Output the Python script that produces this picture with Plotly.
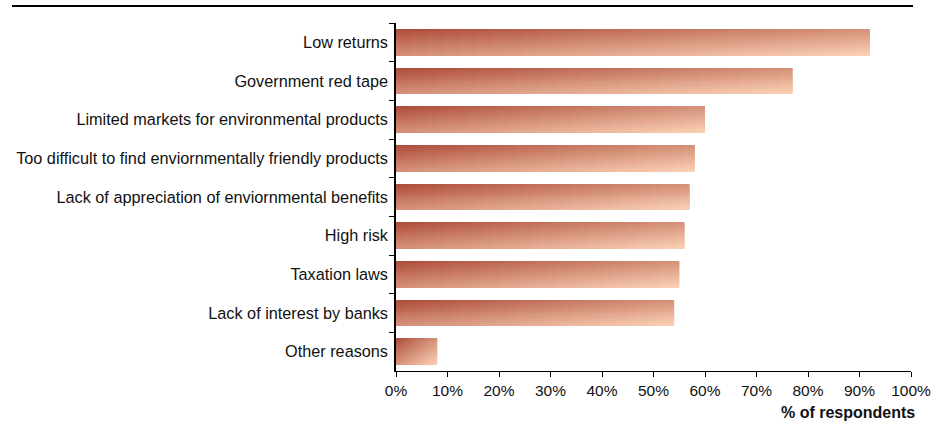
import plotly.graph_objects as go

categories = [
    "Low returns",
    "Government red tape",
    "Limited markets for environmental products",
    "Too difficult to find enviornmentally friendly products",
    "Lack of appreciation of enviornmental benefits",
    "High risk",
    "Taxation laws",
    "Lack of interest by banks",
    "Other reasons",
]
values = [92, 77, 60, 58, 57, 56, 55, 54, 8]
tick_values = list(range(0, 101, 10))
tick_labels = [f"{v}%" for v in tick_values]

# gradient fill: dark top-left -> light bottom-right
c_dark = (172, 74, 56)
c_light = (250, 208, 180)
N_ROWS, N_COLS = 26, 30
BAR_W = 0.66


def ramp(t):
    t = max(0.0, min(1.0, t))
    t = t ** 0.95
    r, g, b = (round(a + (b_ - a) * t) for a, b_ in zip(c_dark, c_light))
    return f"rgb({r},{g},{b})"


ys, xs, bases, offs, widths, cols = [], [], [], [], [], []
for cat, v in zip(categories, values):
    seg = v / N_COLS
    for r in range(N_ROWS):
        for c in range(N_COLS):
            ys.append(cat)
            bases.append(seg * c)
            xs.append(seg * 1.3 if c < N_COLS - 1 else seg)
            offs.append(-BAR_W / 2 + r * BAR_W / N_ROWS)
            widths.append(BAR_W / N_ROWS * (1.6 if r < N_ROWS - 1 else 1.0))
            u = (c + 0.5) / N_COLS
            w = (r + 0.5) / N_ROWS
            cols.append(ramp(0.5 * u + 0.5 * w))

fig = go.Figure(
    go.Bar(
        y=ys,
        x=xs,
        base=bases,
        offset=offs,
        width=widths,
        orientation="h",
        marker=dict(color=cols, line=dict(width=0)),
        hoverinfo="skip",
        showlegend=False,
    )
)

font_family = "Liberation Sans, Arial, sans-serif"
fig.update_layout(
    width=944,
    height=423,
    margin=dict(l=396, r=33, t=23, b=52),
    plot_bgcolor="white",
    paper_bgcolor="white",
    barmode="overlay",
    font=dict(family=font_family, size=16, color="#111"),
    xaxis=dict(
        range=[0, 100],
        tickvals=tick_values,
        ticktext=tick_labels,
        showgrid=False,
        zeroline=False,
        showline=True,
        linecolor="black",
        linewidth=1,
        ticks="outside",
        ticklen=5,
        tickcolor="black",
        tickfont=dict(size=15.5),
        fixedrange=True,
    ),
    yaxis=dict(
        type="category",
        categoryorder="array",
        categoryarray=categories,
        range=[len(categories) - 0.5, -0.5],
        showgrid=False,
        zeroline=False,
        showline=True,
        linecolor="black",
        linewidth=1.5,
        ticks="outside",
        tickson="boundaries",
        ticklen=5,
        tickcolor="black",
        tickfont=dict(size=16.25),
        ticklabelstandoff=3,
        fixedrange=True,
    ),
    shapes=[
        dict(
            type="line",
            xref="paper",
            yref="paper",
            x0=(12 - 396) / 515,
            x1=(913 - 396) / 515,
            y0=1 + 17 / 348,
            y1=1 + 17 / 348,
            line=dict(color="black", width=2),
        )
    ],
    annotations=[
        dict(
            text="<b>% of respondents</b>",
            xref="paper",
            yref="paper",
            x=1 + 6 / 515,
            y=-41 / 348,
            xanchor="right",
            yanchor="middle",
            showarrow=False,
            font=dict(size=16, color="#111"),
        )
    ],
)

fig.write_html("out.html")
